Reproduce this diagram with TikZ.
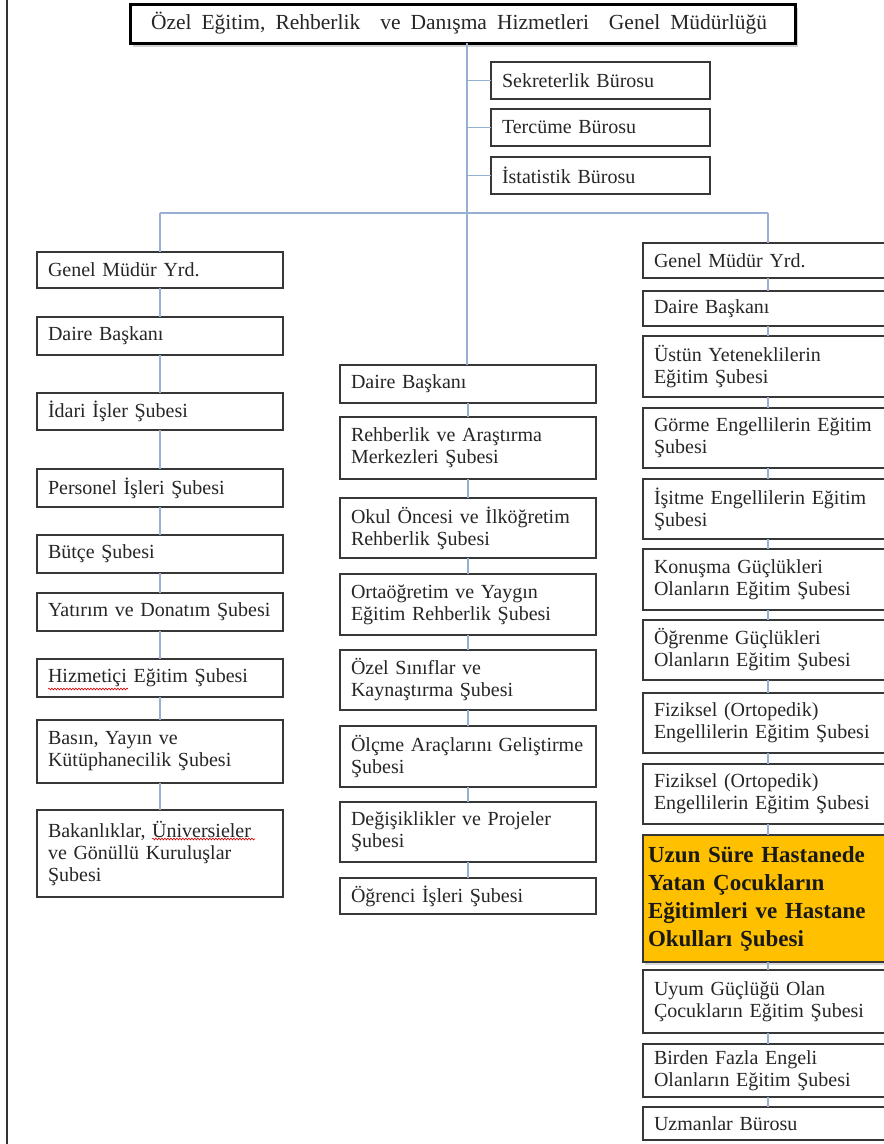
\documentclass[tikz,border=0pt]{standalone}
\usepackage{fontspec}
\setmainfont{Liberation Serif}
\usetikzlibrary{shadows,decorations.pathmorphing}
\definecolor{boxc}{RGB}{55,55,55}
\definecolor{linec}{RGB}{150,176,210}
\definecolor{gold}{RGB}{255,192,0}
\tikzset{
  every node/.style={font=\fontsize{20}{22}\selectfont},
  bx/.style={draw=boxc, line width=1.2pt, fill=white, anchor=north west,
    inner xsep=11pt, inner ysep=2pt, outer sep=0pt, align=left, text=black!85},
  lb/.style={bx, text width=224pt, minimum width=246pt},
  mb/.style={bx, text width=234pt, minimum width=256pt},
  rb/.style={bx, text width=228pt, minimum width=250pt},
  bb/.style={bx, text width=197pt, minimum width=219pt},
  conn/.style={draw=linec, line width=1.6pt},
  spell/.style={draw=red!85!black, line width=0.6pt, decorate,
    decoration={snake, amplitude=0.9pt, segment length=3pt}},
}
\begin{document}
\begin{tikzpicture}[x=1pt,y=-1pt]
\useasboundingbox (0,0) rectangle (884,1144);
\clip (0,0) rectangle (884,1144);
\fill[white] (0,0) rectangle (884,1144);
\draw[line width=2pt, black!80] (7,0) -- (7,1144);

% top
\node[bx, line width=3pt, draw=black, inner xsep=20pt, text width=623pt, minimum width=665pt,
  minimum height=39pt, drop shadow={shadow xshift=3pt, shadow yshift=-4pt, opacity=0.35},
  font=\fontsize{21.5}{24}\selectfont] (top) at (130,4)
  {Özel\hspace{10pt}Eğitim,\hspace{10pt}Rehberlik\hspace{20pt}ve\hspace{10pt}Danışma\hspace{10pt}Hizmetleri\hspace{20pt}Genel\hspace{10pt}Müdürlüğü};

% bureaus
\node[bb, minimum height=37pt] (b1) at (491,62) {Sekreterlik Bürosu};
\node[bb, minimum height=37pt] (b2) at (491,109) {Tercüme Bürosu};
\node[bb, minimum height=37pt] (b3) at (491,157) {İstatistik Bürosu};

% left column
\node[lb, minimum height=36pt] (l1) at (37,252) {Genel Müdür Yrd.};
\node[lb, minimum height=38pt] (l2) at (37,317) {Daire Başkanı};
\node[lb, minimum height=37pt] (l3) at (37,393) {İdari İşler Şubesi};
\node[lb, minimum height=38pt] (l4) at (37,469) {Personel İşleri Şubesi};
\node[lb, minimum height=38pt] (l5) at (37,535) {Bütçe Şubesi};
\node[lb, minimum height=38pt] (l6) at (37,593) {Yatırım ve Donatım Şubesi};
\node[lb, minimum height=38pt] (l7) at (37,659) {Hizmetiçi Eğitim Şubesi};
\node[lb, minimum height=63pt] (l8) at (37,720) {Basın, Yayın ve\\Kütüphanecilik Şubesi};
\node[lb, minimum height=87pt] (l9) at (37,810) {Bakanlıklar, Üniversieler\\ve Gönüllü Kuruluşlar\\Şubesi};

% middle column
\node[mb, minimum height=38pt] (m1) at (340,365) {Daire Başkanı};
\node[mb, minimum height=62pt] (m2) at (340,417) {Rehberlik ve Araştırma\\Merkezleri Şubesi};
\node[mb, minimum height=60pt] (m3) at (340,498) {Okul Öncesi ve İlköğretim\\Rehberlik Şubesi};
\node[mb, minimum height=61pt] (m4) at (340,574) {Ortaöğretim ve Yaygın\\Eğitim Rehberlik Şubesi};
\node[mb, minimum height=60pt] (m5) at (340,650) {Özel Sınıflar ve\\Kaynaştırma Şubesi};
\node[mb, minimum height=61pt] (m6) at (340,726) {Ölçme Araçlarını Geliştirme\\Şubesi};
\node[mb, minimum height=60pt] (m7) at (340,802) {Değişiklikler ve Projeler\\Şubesi};
\node[mb, minimum height=36pt] (m8) at (340,878) {Öğrenci İşleri Şubesi};

% right column
\node[rb, minimum height=35pt] (r1) at (643,243) {Genel Müdür Yrd.};
\node[rb, minimum height=35pt] (r2) at (643,291) {Daire Başkanı};
\node[rb, minimum height=61pt] (r3) at (643,336) {Üstün Yeteneklilerin\\Eğitim Şubesi};
\node[rb, minimum height=60pt] (r4) at (643,408) {Görme Engellilerin Eğitim\\Şubesi};
\node[rb, minimum height=60pt] (r5) at (643,479) {İşitme Engellilerin Eğitim\\Şubesi};
\node[rb, minimum height=61pt] (r6) at (643,549) {Konuşma Güçlükleri\\Olanların Eğitim Şubesi};
\node[rb, minimum height=60pt] (r7) at (643,620) {Öğrenme Güçlükleri\\Olanların Eğitim Şubesi};
\node[rb, minimum height=60pt] (r8) at (643,693) {Fiziksel (Ortopedik)\\Engellilerin Eğitim Şubesi};
\node[rb, minimum height=60pt] (r9) at (643,764) {Fiziksel (Ortopedik)\\Engellilerin Eğitim Şubesi};
\node[bx, fill=gold, inner xsep=5pt, text width=240pt, minimum width=250pt, minimum height=127pt,
  font=\fontsize{23}{28}\selectfont\bfseries, text=black!90,
  drop shadow={shadow xshift=2pt, shadow yshift=-3pt, opacity=0.3}] (r10) at (643,835)
  {Uzun Süre Hastanede\\Yatan Çocukların\\Eğitimleri\hspace{8pt}ve Hastane\\Okulları Şubesi};
\node[rb, minimum height=63pt] (r11) at (643,970) {Uyum Güçlüğü Olan\\Çocukların Eğitim Şubesi};
\node[rb, minimum height=53pt] (r12) at (643,1044) {Birden Fazla Engeli\\Olanların Eğitim Şubesi};
\node[rb, minimum height=33pt] (r13) at (643,1107) {Uzmanlar Bürosu};

% spell-check underlines
\draw[spell] ([xshift=11pt, yshift=-11pt]l7.west) -- ++(80,0);
\draw[spell] ([xshift=115pt, yshift=14.5pt]l9.west) -- ++(103,0);

% junctions
\coordinate (jm) at (467,213);
\coordinate (jl) at (160,213);
\coordinate (jr) at (768,213);

% connectors
\draw[conn] (top.south -| jm) -- (m1.north -| jm);
\foreach \b in {b1,b2,b3} \draw[conn] (\b.west) -- (\b.west -| jm);
\draw[conn] (jl) -- (jr);
\draw[conn] (jl) -- (l1.north);
\draw[conn] (jr) -- (r1.north);
\foreach \a/\b in {l1/l2,l2/l3,l3/l4,l4/l5,l5/l6,l6/l7,l7/l8,l8/l9,
                   m1/m2,m2/m3,m3/m4,m4/m5,m5/m6,m6/m7,m7/m8,
                   r1/r2,r2/r3,r3/r4,r4/r5,r5/r6,r6/r7,r7/r8,r8/r9,r9/r10,r10/r11,r11/r12,r12/r13}
  \draw[conn] (\a.south) -- (\b.north);
\end{tikzpicture}
\end{document}
